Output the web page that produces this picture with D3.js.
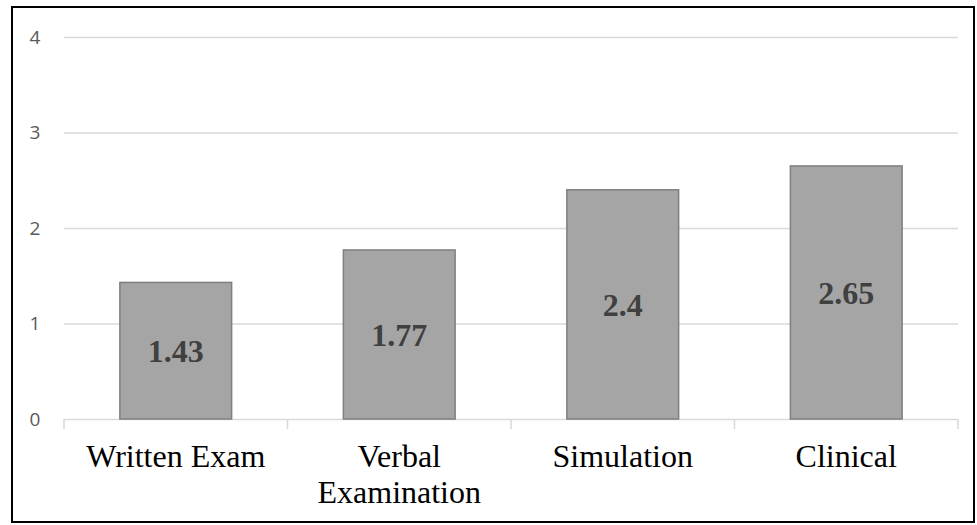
<!DOCTYPE html>
<html>
<head>
<meta charset="utf-8">
<script src="https://cdn.jsdelivr.net/npm/d3@7"></script>
<style>
  body { margin: 0; background: #fff; }
</style>
</head>
<body>
<div id="chart"></div>
<script>
// data
const categories = [["Written Exam"], ["Verbal", "Examination"], ["Simulation"], ["Clinical"]];
const values = [1.43, 1.77, 2.4, 2.65];
const yTicks = [0, 1, 2, 3, 4];

const width = 977, height = 525;
const margin = {top: 37, right: 19, bottom: 106, left: 64};

const svg = d3.select("#chart").append("svg")
    .attr("width", width)
    .attr("height", height);

// outer frame
svg.append("rect")
    .attr("x", 12).attr("y", 7)
    .attr("width", 962).attr("height", 515)
    .attr("fill", "none")
    .attr("stroke", "#000")
    .attr("stroke-width", 2);

const x = d3.scaleBand()
    .domain(d3.range(categories.length))
    .range([margin.left, width - margin.right])
    .paddingInner(0.5).paddingOuter(0.25);

const y = d3.scaleLinear()
    .domain([0, 4])
    .range([height - margin.bottom, margin.top]);

// gridlines
svg.append("g")
    .selectAll("line")
    .data(yTicks)
    .join("line")
    .attr("x1", margin.left).attr("x2", width - margin.right)
    .attr("y1", d => y(d) + 0.5).attr("y2", d => y(d) + 0.5)
    .attr("stroke", "#d9d9d9")
    .attr("stroke-width", 1.5);

// y labels
svg.append("g")
    .selectAll("text")
    .data(yTicks)
    .join("text")
    .attr("x", 35)
    .attr("y", d => y(d))
    .attr("dy", "0.36em")
    .attr("text-anchor", "middle")
    .attr("font-family", "Open Sans, sans-serif")
    .attr("font-size", 19)
    .attr("fill", "#595959")
    .text(d => d);

// x axis ticks between categories
const tickXs = d3.range(categories.length + 1).map(i => margin.left + i * (width - margin.left - margin.right) / categories.length);
svg.append("g")
    .selectAll("line")
    .data(tickXs)
    .join("line")
    .attr("x1", d => d).attr("x2", d => d)
    .attr("y1", y(0)).attr("y2", y(0) + 10)
    .attr("stroke", "#d9d9d9")
    .attr("stroke-width", 1.5);

// bars
svg.append("g")
    .selectAll("rect")
    .data(values)
    .join("rect")
    .attr("x", (d, i) => x(i))
    .attr("y", d => y(d))
    .attr("width", x.bandwidth())
    .attr("height", d => y(0) - y(d))
    .attr("fill", "#a5a5a5")
    .attr("stroke", "#7f7f7f")
    .attr("stroke-width", 1.5);

// value labels
svg.append("g")
    .selectAll("text")
    .data(values)
    .join("text")
    .attr("x", (d, i) => x(i) + x.bandwidth() / 2)
    .attr("y", d => (y(d) + y(0)) / 2)
    .attr("dy", "0.35em")
    .attr("text-anchor", "middle")
    .attr("font-family", "Liberation Serif, Times New Roman, serif")
    .attr("font-weight", "bold")
    .attr("font-size", 32)
    .attr("fill", "#404040")
    .text(d => d);

// category labels
const cat = svg.append("g")
    .selectAll("text")
    .data(categories)
    .join("text")
    .attr("x", (d, i) => x(i) + x.bandwidth() / 2)
    .attr("y", 467)
    .attr("text-anchor", "middle")
    .attr("font-family", "Liberation Serif, Times New Roman, serif")
    .attr("font-size", 32)
    .attr("fill", "#000");

cat.each(function(d, i) {
    const t = d3.select(this);
    d.forEach((line, j) => {
        t.append("tspan")
            .attr("x", x(i) + x.bandwidth() / 2)
            .attr("dy", j === 0 ? 0 : 36)
            .text(line);
    });
});
</script>
</body>
</html>
